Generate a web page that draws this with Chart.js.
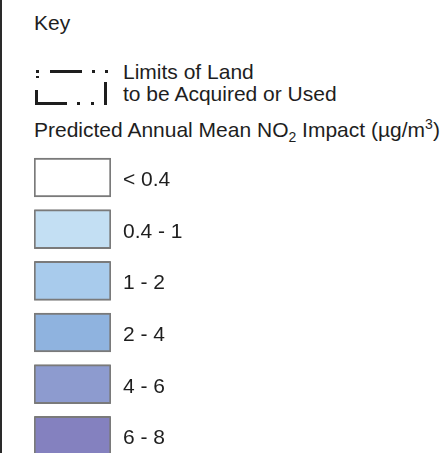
<!DOCTYPE html>
<html lang="en">
<head>
<meta charset="UTF-8" />
<title>Key - Predicted Annual Mean NO2 Impact</title>
<script src="https://cdn.jsdelivr.net/npm/chart.js"></script>
<style>
  html, body { margin: 0; padding: 0; background: #fff; overflow: hidden; }
  body { width: 448px; height: 453px; position: relative; font-family: 'Liberation Sans', Arial, sans-serif; color: #1e1e1e; }
  .frame { position: absolute; left: 0; top: 0; width: 2px; height: 453px; background: #2a2a2a; }
  .txt { position: absolute; font-size: 21px; line-height: 24px; white-space: nowrap; }
  sub, sup { font-size: 14px; line-height: 0; }
  #chartWrap { position: absolute; left: 0; top: 0; width: 448px; height: 470px; }
  svg { position: absolute; left: 0; top: 0; }
</style>
</head>
<body>
  <div class="frame"></div>
  <div class="txt" style="left:34px; top:10.7px;">Key</div>

  <!-- limits of land symbol -->
  <svg width="120" height="110">
    <g fill="#1e1e1e">
      <rect x="36" y="70" width="3" height="3" />
      <rect x="36" y="76" width="3" height="2" />
      <rect x="50" y="70" width="32" height="3" />
      <rect x="92" y="70" width="3" height="3" />
      <rect x="105" y="70" width="3" height="3" />
      <rect x="35" y="90" width="3" height="15" />
      <rect x="35" y="102" width="32" height="3" />
      <rect x="77" y="102" width="3" height="3" />
      <rect x="91" y="102" width="3" height="3" />
      <rect x="104" y="82" width="3" height="23" />
    </g>
  </svg>
  <div class="txt" style="left:123px; top:59.7px;">Limits of Land</div>
  <div class="txt" style="left:123px; top:82.2px;">to be Acquired or Used</div>
  <div class="txt" style="left:34px; top:117.7px;">Predicted Annual Mean NO<sub>2</sub> Impact (µg/m<sup>3</sup>)</div>

  <div id="chartWrap"><canvas id="keyChart" width="448" height="470"></canvas></div>

  <script>
    const bands = ["< 0.4", "0.4 - 1", "1 - 2", "2 - 4", "4 - 6", "6 - 8"];
    const bandColors = ["#ffffff", "#c3dff3", "#a8cbec", "#8fb3df", "#8d9bcf", "#8481bf"];

    const bandLabels = {
      id: "bandLabels",
      afterDatasetsDraw(chart) {
        const { ctx, chartArea, scales } = chart;
        ctx.save();
        ctx.font = "21px 'Liberation Sans', Arial, sans-serif";
        ctx.fillStyle = "#1e1e1e";
        ctx.textBaseline = "alphabetic";
        bands.forEach((b, i) => {
          ctx.fillText(b, chartArea.right + 12, scales.y.getPixelForValue(i) + 8.5);
        });
        ctx.restore();
      }
    };

    new Chart(document.getElementById("keyChart"), {
      type: "bar",
      data: {
        labels: bands,
        datasets: [{
          data: bands.map(() => [0, 1]),
          backgroundColor: bandColors,
          borderColor: "#7a7a7a",
          borderWidth: 2,
          borderRadius: 1,
          borderSkipped: false,
          barThickness: 39
        }]
      },
      options: {
        indexAxis: "y",
        responsive: false,
        animation: false,
        layout: { padding: { left: 34, right: 337, top: 151.7, bottom: 8.3 } },
        plugins: { legend: { display: false }, tooltip: { enabled: false } },
        scales: {
          x: { display: false, min: 0, max: 1 },
          y: { display: false }
        }
      },
      plugins: [bandLabels]
    });
  </script>
</body>
</html>
